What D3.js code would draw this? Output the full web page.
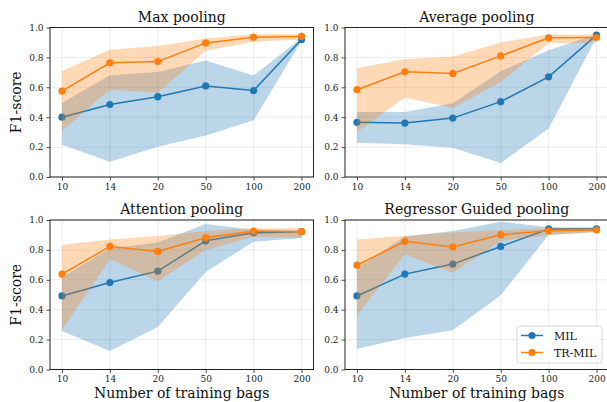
<!DOCTYPE html>
<html>
<head>
<meta charset="utf-8">
<script src="https://cdn.jsdelivr.net/npm/d3@7"></script>
<style>
  body { margin: 0; background: #fff; }
  svg { display: block; font-family: "DejaVu Serif", serif; }
  .tick text { font-family: "DejaVu Serif", serif; fill: #222; }
</style>
</head>
<body>
<div id="chart"></div>
<script>
// categories + tick values
var bags = ["10", "14", "20", "50", "100", "200"];
var yTicks = [0, 0.2, 0.4, 0.6, 0.8, 1.0];
var titles = ["Max pooling", "Average pooling", "Attention pooling", "Regressor Guided pooling"];
var seriesNames = ["MIL", "TR-MIL"];

// MIL (blue) : mean, lower band, upper band  -- one row per panel
var milMean = [
  [0.400, 0.485, 0.537, 0.609, 0.578, 0.920],
  [0.366, 0.361, 0.394, 0.504, 0.670, 0.949],
  [0.492, 0.582, 0.658, 0.861, 0.915, 0.922],
  [0.492, 0.638, 0.705, 0.823, 0.940, 0.940]
];
var milLow = [
  [0.216, 0.102, 0.202, 0.277, 0.379, 0.910],
  [0.229, 0.219, 0.196, 0.094, 0.324, 0.935],
  [0.258, 0.123, 0.284, 0.653, 0.855, 0.880],
  [0.139, 0.210, 0.262, 0.497, 0.900, 0.920]
];
var milHigh = [
  [0.495, 0.680, 0.703, 0.779, 0.679, 0.930],
  [0.434, 0.434, 0.493, 0.708, 0.848, 0.955],
  [0.615, 0.810, 0.850, 0.973, 0.935, 0.930],
  [0.676, 0.890, 0.926, 0.989, 0.951, 0.951]
];

// TR-MIL (orange)
var trMean = [
  [0.575, 0.764, 0.772, 0.897, 0.935, 0.940],
  [0.584, 0.704, 0.693, 0.810, 0.931, 0.933],
  [0.638, 0.823, 0.790, 0.881, 0.926, 0.922],
  [0.698, 0.857, 0.819, 0.902, 0.928, 0.933]
];
var trLow = [
  [0.310, 0.585, 0.564, 0.845, 0.905, 0.920],
  [0.301, 0.532, 0.462, 0.636, 0.895, 0.900],
  [0.268, 0.738, 0.590, 0.800, 0.888, 0.880],
  [0.367, 0.770, 0.647, 0.860, 0.900, 0.920]
];
var trHigh = [
  [0.709, 0.852, 0.877, 0.926, 0.955, 0.955],
  [0.728, 0.787, 0.806, 0.900, 0.953, 0.953],
  [0.832, 0.870, 0.893, 0.926, 0.944, 0.944],
  [0.870, 0.895, 0.917, 0.933, 0.944, 0.944]
];

var colors = ["#1f77b4", "#ff7f0e"];

var svgWidth = 607, svgHeight = 402;
var panelW = 263.5, panelH = 149.5;
var panelX = [50, 345];
var panelY = [27.5, 220];

var svg = d3.select("#chart")
  .append("svg")
  .attr("width", svgWidth)
  .attr("height", svgHeight);

titles.forEach(function (title, p) {
  var col = p % 2, row = Math.floor(p / 2);
  var g = svg.append("g")
    .attr("transform", `translate(${panelX[col]}, ${panelY[row]})`);

  var x = d3.scalePoint().domain(bags).range([0, panelW]).padding(0.25);
  var y = d3.scaleLinear().domain([0, 1]).range([panelH, 0]);

  // grid
  g.append("g").selectAll("line.vg")
    .data(bags).enter().append("line")
    .attr("x1", d => x(d)).attr("x2", d => x(d))
    .attr("y1", 0).attr("y2", panelH)
    .attr("stroke", "#b0b0b0").attr("stroke-opacity", 0.3).attr("stroke-width", 0.8);
  g.append("g").selectAll("line.hg")
    .data(yTicks).enter().append("line")
    .attr("x1", 0).attr("x2", panelW)
    .attr("y1", d => y(d)).attr("y2", d => y(d))
    .attr("stroke", "#b0b0b0").attr("stroke-opacity", 0.3).attr("stroke-width", 0.8);

  var series = [
    { mean: milMean[p], low: milLow[p], high: milHigh[p] },
    { mean: trMean[p], low: trLow[p], high: trHigh[p] }
  ];

  var area = d3.area()
    .x((d, i) => x(bags[i]))
    .y0(d => y(d[0]))
    .y1(d => y(d[1]));
  var line = d3.line()
    .x((d, i) => x(bags[i]))
    .y(d => y(d));

  series.forEach(function (s, k) {
    var band = s.low.map((v, i) => [v, s.high[i]]);
    g.append("path")
      .datum(band)
      .attr("d", area)
      .attr("fill", colors[k])
      .attr("fill-opacity", 0.3);
    g.append("path")
      .datum(s.mean)
      .attr("d", line)
      .attr("fill", "none")
      .attr("stroke", colors[k])
      .attr("stroke-width", 1.5);
    g.selectAll(null)
      .data(s.mean).enter().append("circle")
      .attr("cx", (d, i) => x(bags[i]))
      .attr("cy", d => y(d))
      .attr("r", 3.6)
      .attr("fill", colors[k]);
  });

  // axes
  var xAxis = g.append("g")
    .attr("transform", `translate(0, ${panelH})`)
    .call(d3.axisBottom(x).tickSize(3.5).tickPadding(3));
  var yAxis = g.append("g")
    .call(d3.axisLeft(y).tickValues(yTicks).tickFormat(d3.format(".1f")).tickSize(3.5).tickPadding(3));
  [xAxis, yAxis].forEach(function (a) {
    a.select(".domain").remove();
    a.selectAll(".tick line").attr("stroke", "#222").attr("stroke-width", 0.8);
    a.selectAll(".tick text").attr("font-size", 9);
  });

  // frame
  g.append("rect")
    .attr("width", panelW).attr("height", panelH)
    .attr("fill", "none").attr("stroke", "#222").attr("stroke-width", 1);

  // title
  g.append("text")
    .attr("x", panelW / 2).attr("y", -6)
    .attr("text-anchor", "middle")
    .attr("font-size", 14)
    .attr("fill", "#111")
    .text(title);

  if (col === 0) {
    g.append("text")
      .attr("transform", `translate(-29, ${panelH / 2}) rotate(-90)`)
      .attr("text-anchor", "middle")
      .attr("font-size", 14)
      .attr("fill", "#111")
      .text("F1-score");
  }
  if (row === 1) {
    g.append("text")
      .attr("x", panelW / 2).attr("y", panelH + 28.5)
      .attr("text-anchor", "middle")
      .attr("font-size", 14)
      .attr("fill", "#111")
      .text("Number of training bags");
  }

  // legend in the last panel
  if (p === 3) {
    var lg = g.append("g").attr("transform", `translate(${517 - panelX[1]}, ${326 - panelY[1]})`);
    lg.append("rect")
      .attr("width", 85).attr("height", 37).attr("rx", 2.5)
      .attr("fill", "#fff").attr("fill-opacity", 0.8)
      .attr("stroke", "#ccc").attr("stroke-width", 0.8);
    seriesNames.forEach(function (name, k) {
      var ly = 9.5 + k * 17;
      lg.append("line")
        .attr("x1", 4).attr("x2", 26).attr("y1", ly).attr("y2", ly)
        .attr("stroke", colors[k]).attr("stroke-width", 1.5);
      lg.append("circle")
        .attr("cx", 15).attr("cy", ly).attr("r", 3.6).attr("fill", colors[k]);
      lg.append("text")
        .attr("x", 37).attr("y", ly + 4)
        .attr("font-size", 11)
        .attr("fill", "#111")
        .text(name);
    });
  }
});
</script>
</body>
</html>
